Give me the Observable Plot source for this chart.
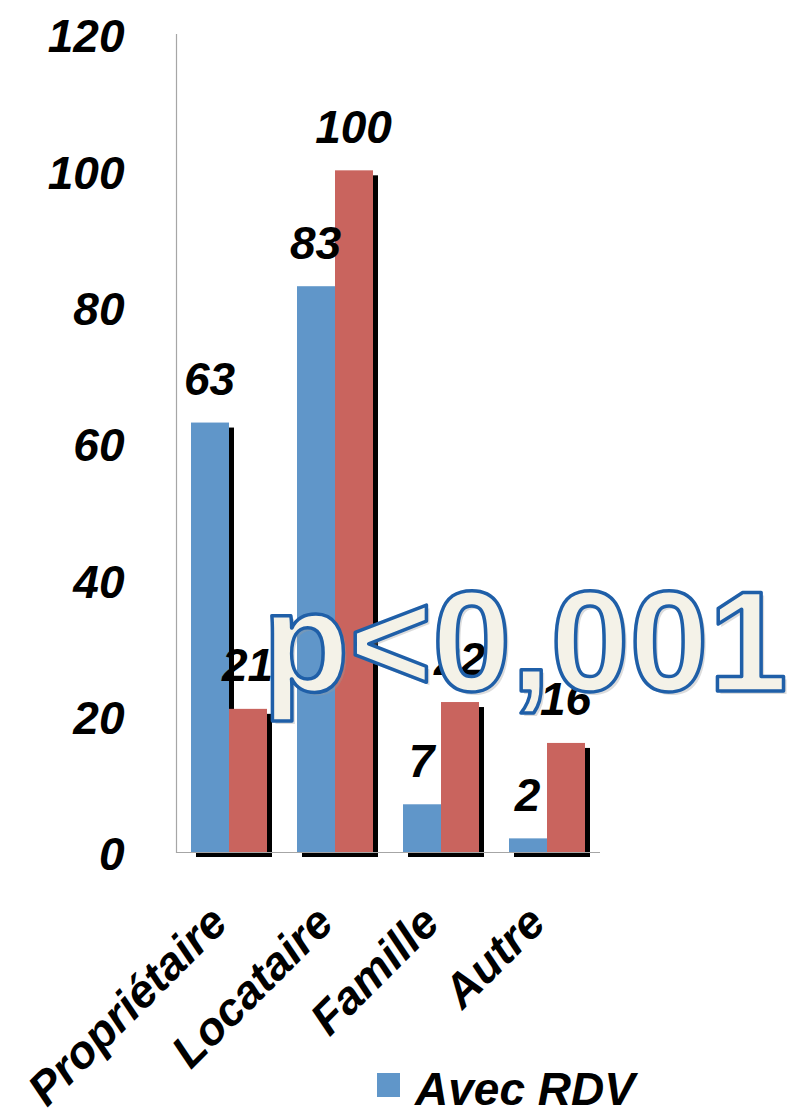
<!DOCTYPE html>
<html>
<head>
<meta charset="utf-8">
<script src="https://cdn.jsdelivr.net/npm/d3@7"></script>
<script src="https://cdn.jsdelivr.net/npm/@observablehq/plot@0.6"></script>
<style>
  html, body { margin: 0; padding: 0; background: #fff; width: 792px; height: 1116px; overflow: hidden; }
  #wrap { position: relative; width: 792px; height: 1116px; overflow: hidden; }
  #legend { position: absolute; left: 377px; top: 1066px; font: italic bold 46px "Liberation Sans", Arial, sans-serif; line-height: 46px; }
  .item { display: flex; align-items: flex-start; height: 60px; }
  .sw { width: 23px; height: 24px; margin-top: 7px; margin-right: 15px; }
</style>
</head>
<body>
<div id="wrap"></div>
<script>
const categories = ["Propriétaire", "Locataire", "Famille", "Autre"];
const seriesNames = ["Avec RDV", "Sans RDV"];
const avecRDV = [63, 83, 7, 2];
const sansRDV = [21, 100, 22, 16];
const yTicks = [0, 20, 40, 60, 80, 100, 120];
const pValueLabel = "p<0,001";
const colors = ["#6096C9", "#C9645E"];

const avec = categories.map((c, i) => ({category: c, value: avecRDV[i]}));
const sans = categories.map((c, i) => ({category: c, value: sansRDV[i]}));

const FF = '"Liberation Sans", Arial, sans-serif';
const font = {fontFamily: FF, fontWeight: "bold", fontStyle: "italic", fontSize: 46};
const half = 38;

const chart = Plot.plot({
  width: 792,
  height: 1060,
  marginLeft: 176,
  marginRight: 192,
  marginTop: 34,
  marginBottom: 208,
  style: {fontFamily: FF, fontSize: "46px", fontWeight: "bold", fontStyle: "italic", background: "white", overflow: "visible"},
  x: {domain: categories, paddingInner: 0.283, paddingOuter: 0.1415, axis: null},
  y: {domain: [0, 120], label: null, axis: null},
  marks: [
    Plot.frame({anchor: "left", stroke: "#a6a6a6", strokeWidth: 1.2}),
    Plot.axisY({ticks: yTicks, tickSize: 0, tickPadding: 52, dy: 3, label: null, ...font}),
    // shadows
    Plot.barY(avec, {x: "category", y: "value", fill: "black", insetRight: half, dx: 5, dy: 5}),
    Plot.barY(sans, {x: "category", y: "value", fill: "black", insetLeft: half, dx: 5, dy: 5}),
    Plot.ruleY([0], {stroke: "#a6a6a6", strokeWidth: 1.2}),
    // bars
    Plot.barY(avec, {x: "category", y: "value", fill: colors[0], insetRight: half}),
    Plot.barY(sans, {x: "category", y: "value", fill: colors[1], insetLeft: half}),
    // value labels
    Plot.text(avec, {x: "category", y: "value", text: d => String(d.value), dx: -20, dy: -28, lineAnchor: "bottom", fill: "black", ...font}),
    Plot.text(sans, {x: "category", y: "value", text: d => String(d.value), dx: 18, dy: -28, lineAnchor: "bottom", fill: "black", ...font}),
    // category labels
    Plot.text(categories, {x: d => d, text: d => d, frameAnchor: "bottom", dy: 73, rotate: -45, textAnchor: "end", lineAnchor: "bottom", fill: "black", ...font}),
    // p-value annotation (soft shadow + outlined text)
    Plot.text([pValueLabel], {text: d => d, frameAnchor: "top-left", dx: 89, dy: 659, textAnchor: "start", lineAnchor: "bottom",
      fontFamily: FF, fontWeight: "bold", fontStyle: "normal", fontSize: 142,
      fill: "#9a9a9a", fillOpacity: 0.35, stroke: "none"}),
    Plot.text([pValueLabel], {text: d => d, frameAnchor: "top-left", dx: 86, dy: 656, textAnchor: "start", lineAnchor: "bottom",
      fontFamily: FF, fontWeight: "bold", fontStyle: "normal", fontSize: 142,
      fill: "#F4F2E8", stroke: "#1F5FA8", strokeWidth: 3.5, paintOrder: "normal"})
  ]
});
const wrap = document.getElementById("wrap");
wrap.appendChild(chart);

const legend = document.createElement("div");
legend.id = "legend";
seriesNames.forEach((name, i) => {
  const item = document.createElement("div");
  item.className = "item";
  const sw = document.createElement("div");
  sw.className = "sw";
  sw.style.background = colors[i];
  const t = document.createElement("span");
  t.textContent = name;
  item.appendChild(sw);
  item.appendChild(t);
  legend.appendChild(item);
});
wrap.appendChild(legend);
</script>
</body>
</html>
